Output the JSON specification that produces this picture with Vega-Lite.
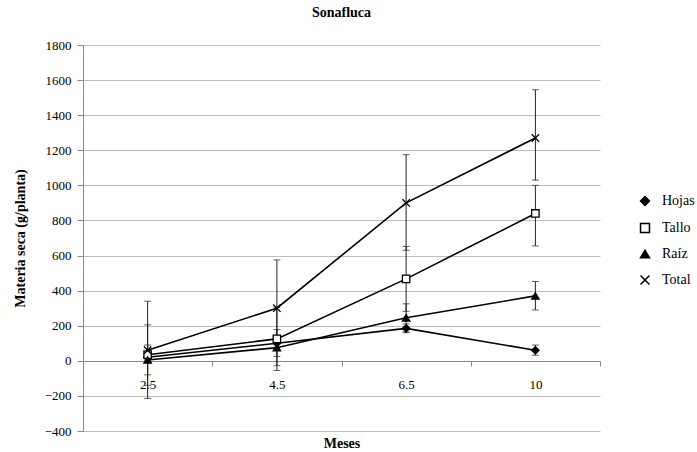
{
  "$schema": "https://vega.github.io/schema/vega-lite/v6.json",
  "width": 517,
  "height": 386,
  "autosize": "none",
  "padding": {"left": 83, "top": 45, "right": 97, "bottom": 21},
  "background": "white",
  "config": {
    "font": "Liberation Serif, serif",
    "view": {"stroke": null},
    "axis": {"labelFont": "Liberation Serif, serif", "titleFont": "Liberation Serif, serif", "labelColor": "black", "titleColor": "black"},
    "legend": {"labelFont": "Liberation Serif, serif"}
  },
  "title": {"text": "Sonafluca", "font": "Liberation Serif, serif", "fontSize": 14, "fontWeight": "bold", "color": "black", "offset": 19, "anchor": "middle"},
  "data": {"values": [
    {"Meses": "2.5", "Serie": "Hojas", "v": 20, "lo": 5, "hi": 35},
    {"Meses": "2.5", "Serie": "Tallo", "v": 35, "lo": -140, "hi": 205},
    {"Meses": "2.5", "Serie": "Raíz", "v": 5, "lo": -80, "hi": 90},
    {"Meses": "2.5", "Serie": "Total", "v": 60, "lo": -215, "hi": 340},
    {"Meses": "4.5", "Serie": "Hojas", "v": 100, "lo": 60, "hi": 140},
    {"Meses": "4.5", "Serie": "Tallo", "v": 125, "lo": -55, "hi": 305},
    {"Meses": "4.5", "Serie": "Raíz", "v": 75, "lo": -28, "hi": 178},
    {"Meses": "4.5", "Serie": "Total", "v": 300, "lo": 25, "hi": 575},
    {"Meses": "6.5", "Serie": "Hojas", "v": 185, "lo": 160, "hi": 210},
    {"Meses": "6.5", "Serie": "Tallo", "v": 467, "lo": 282, "hi": 652},
    {"Meses": "6.5", "Serie": "Raíz", "v": 245, "lo": 165, "hi": 325},
    {"Meses": "6.5", "Serie": "Total", "v": 900, "lo": 630, "hi": 1175},
    {"Meses": "10", "Serie": "Hojas", "v": 60, "lo": 32, "hi": 90},
    {"Meses": "10", "Serie": "Tallo", "v": 840, "lo": 655, "hi": 1000},
    {"Meses": "10", "Serie": "Raíz", "v": 370, "lo": 290, "hi": 452},
    {"Meses": "10", "Serie": "Total", "v": 1270, "lo": 1030, "hi": 1545}
  ]},
  "encoding": {
    "x": {
      "field": "Meses", "type": "ordinal", "sort": ["2.5", "4.5", "6.5", "10"],
      "scale": {"type": "band", "paddingInner": 0, "paddingOuter": 0},
      "axis": {
        "title": "Meses", "titleFontSize": 14, "titleFontWeight": "bold", "titleY": 82, "titleBaseline": "middle",
        "offset": -70, "labelAngle": 0, "labelFontSize": 13, "labelPadding": 12,
        "tickBand": "extent", "ticks": true, "tickSize": 5, "tickColor": "#888888",
        "domainColor": "#888888", "grid": false
      }
    },
    "y": {
      "field": "v", "type": "quantitative",
      "scale": {"domain": [-400, 1800], "nice": false, "zero": false},
      "axis": {
        "title": "Materia seca (g/planta)", "titleFontSize": 14, "titleFontWeight": "bold", "titlePadding": 17,
        "values": [-400, -200, 0, 200, 400, 600, 800, 1000, 1200, 1400, 1600, 1800], "format": "d",
        "labelFontSize": 13, "labelPadding": 6, "tickSize": 6, "tickColor": "#888888",
        "domainColor": "#888888", "gridColor": "#bdbdbd", "gridWidth": 1
      }
    }
  },
  "layer": [
    {
      "mark": {"type": "rule", "color": "#222222", "strokeWidth": 1},
      "encoding": {"y": {"field": "lo", "type": "quantitative"}, "y2": {"field": "hi"}, "detail": {"field": "Serie"}}
    },
    {
      "mark": {"type": "tick", "orient": "horizontal", "color": "#222222", "size": 7, "thickness": 1},
      "encoding": {"y": {"field": "lo", "type": "quantitative"}, "detail": {"field": "Serie"}}
    },
    {
      "mark": {"type": "tick", "orient": "horizontal", "color": "#222222", "size": 7, "thickness": 1},
      "encoding": {"y": {"field": "hi", "type": "quantitative"}, "detail": {"field": "Serie"}}
    },
    {
      "mark": {"type": "line", "color": "black", "strokeWidth": 1.6},
      "encoding": {"detail": {"field": "Serie"}}
    },
    {
      "mark": {"type": "point", "stroke": "black", "strokeWidth": 1.3, "opacity": 1, "size": 55},
      "encoding": {
        "shape": {
          "field": "Serie", "type": "nominal",
          "scale": {"domain": ["Hojas", "Tallo", "Raíz", "Total"], "range": ["diamond", "square", "triangle-up", "M-1,-1L1,1M-1,1L1,-1"]},
          "legend": {
            "title": null, "orient": "none", "legendX": 555, "legendY": 149, "padding": 0,
            "labelFontSize": 14, "labelColor": "black", "labelOffset": 10, "rowPadding": 11,
            "symbolSize": 80
          }
        },
        "fill": {
          "field": "Serie", "type": "nominal",
          "scale": {"domain": ["Hojas", "Tallo", "Raíz", "Total"], "range": ["black", "white", "black", "black"]},
          "legend": null
        }
      }
    }
  ]
}
